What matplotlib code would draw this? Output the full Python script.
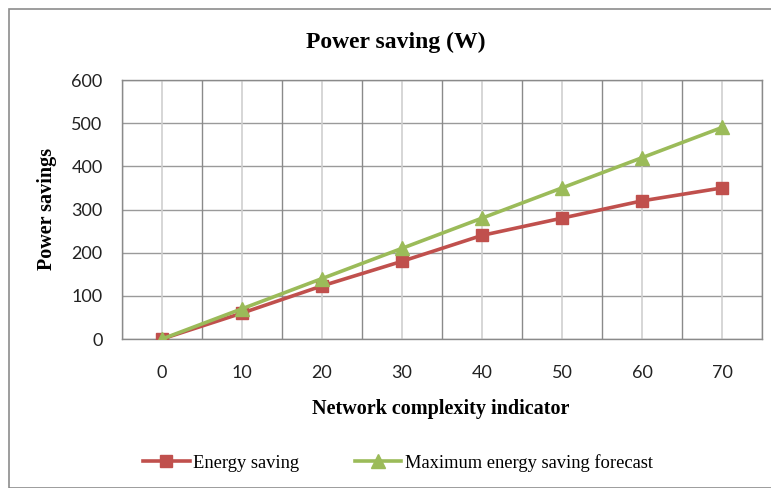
import matplotlib
matplotlib.use("Agg")
import matplotlib.pyplot as plt
from matplotlib.patches import Rectangle
import numpy as np

categories = ["0", "10", "20", "30", "40", "50", "60", "70"]
energy_saving = [0, 60, 123, 180, 240, 280, 320, 350]
max_forecast = [0, 70, 140, 210, 280, 350, 420, 490]
y_ticks = [0, 100, 200, 300, 400, 500, 600]

W, H = 771, 488
fig = plt.figure(figsize=(W / 100, H / 100), dpi=100)
fig.patch.set_facecolor("white")
fig.patches.append(Rectangle((9 / W, 0), 1.2, 1 - 9 / H, transform=fig.transFigure,
                             fill=False, edgecolor="#8c8c8c", linewidth=1.2))

ax = fig.add_axes([122 / W, 1 - 339 / H, 640 / W, 259 / H])
x = np.arange(len(categories))

# grid
for yv in y_ticks:
    ax.axhline(yv, color="#9a9a9a", linewidth=1.0, zorder=1)
for b in np.arange(len(categories) + 1) - 0.5:
    ax.axvline(b, color="#8a8a8a", linewidth=1.0, zorder=1)
for c in x:
    ax.axvline(c, color="#cfcfcf", linewidth=1.2, zorder=1)

ax.plot(x, energy_saving, color="#C0504D", linewidth=2.6, marker="s", markersize=9,
        label="Energy saving", zorder=3)
ax.plot(x, max_forecast, color="#9BBB59", linewidth=2.6, marker="^", markersize=10,
        label="Maximum energy saving forecast", zorder=4)

ax.set_xlim(-0.5, len(categories) - 0.5)
ax.set_ylim(0, 600)
ax.set_xticks(x)
ax.set_xticklabels(categories)
ax.set_yticks(y_ticks)
ax.tick_params(length=0, labelsize=13)
ax.tick_params(axis="x", pad=19)
ax.tick_params(axis="y", pad=14)
for lab in ax.get_xticklabels() + ax.get_yticklabels():
    lab.set_fontfamily("Lato")
    lab.set_color("#222222")
for s in ax.spines.values():
    s.set_color("#8a8a8a")
    s.set_linewidth(1.0)

fig.text(396 / W, 1 - 42 / H, "Power saving (W)", ha="center", va="center",
         fontfamily="Liberation Serif", fontweight="bold", fontsize=17)
fig.text(441 / W, 1 - 409 / H, "Network complexity indicator", ha="center", va="center",
         fontfamily="Liberation Serif", fontweight="bold", fontsize=14.5)
fig.text(47 / W, 1 - 209 / H, "Power savings", ha="center", va="center", rotation=90,
         fontfamily="Liberation Serif", fontweight="bold", fontsize=14.5)

leg = fig.legend(loc="center", bbox_to_anchor=(398 / W, 1 - 463 / H), ncol=2, frameon=False,
                 prop={"family": "Liberation Serif", "size": 13.3}, handlelength=2.5,
                 columnspacing=3.0, handletextpad=0.2)

fig.savefig("out.png", dpi=100)
